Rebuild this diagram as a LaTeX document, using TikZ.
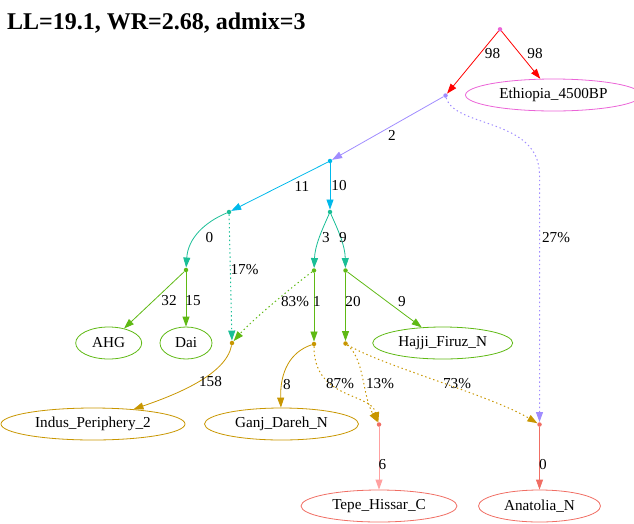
\documentclass[tikz,border=0pt]{standalone}
\usepackage{fontspec}
\setmainfont{Liberation Serif}
\usetikzlibrary{arrows.meta,shapes.geometric}

\definecolor{cRoot}{RGB}{235,100,215}
\definecolor{cRed}{RGB}{255,0,0}
\definecolor{cLav}{RGB}{160,140,255}
\definecolor{cCyan}{RGB}{0,185,235}
\definecolor{cTeal}{RGB}{25,190,150}
\definecolor{cGreen}{RGB}{95,185,20}
\definecolor{cGold}{RGB}{200,150,0}
\definecolor{cSalmon}{RGB}{240,110,100}
\definecolor{cPink}{RGB}{255,160,160}

\begin{document}
\begin{tikzpicture}[x=1pt,y=-1pt,
  every node/.style={font=\fontsize{15.2}{17}\selectfont},
  dot/.style={circle,fill=#1,draw=none,inner sep=0pt,minimum size=4.5pt},
  leaf/.style={ellipse,draw=#1,line width=0.8pt,inner sep=0pt,minimum height=32pt},
  edge/.style={draw=#1,line width=0.8pt,-{Triangle[length=10pt,width=7pt]}},
  mixedge/.style={edge=#1,line width=1pt,dash pattern=on 1.4pt off 2.8pt},
  lab/.style={inner sep=0pt}]
\useasboundingbox (0,0) rectangle (634,523);

% title
\node[anchor=base west,font=\bfseries\fontsize{24}{28}\selectfont,inner sep=0pt]
  (title) at (7,29.3) {LL=19.1, WR=2.68, admix=3};

% internal points of the graph
\node[dot=cRoot]   (R)  at (500,29.3) {};
\node[dot=cLav]    (A)  at (445.5,95.5) {};
\node[dot=cCyan]   (B)  at (330,161) {};
\node[dot=cTeal]   (C)  at (229,212) {};
\node[dot=cTeal]   (D)  at (330,212) {};
\node[dot=cGreen]  (E)  at (186,270) {};
\node[dot=cGreen]  (F)  at (314,270.5) {};
\node[dot=cGreen]  (G)  at (345.5,270.5) {};
\node[dot=cGold]   (IM) at (232,343) {};
\node[dot=cGold]   (H)  at (314,344) {};
\node[dot=cGold]   (I)  at (345.5,343.5) {};
\node[dot=cSalmon] (TM) at (379,424.5) {};
\node[dot=cSalmon] (AM) at (539.5,424.5) {};

% populations
\node[leaf=cRoot,minimum width=176pt]   (Eth)  at (553.5,95)  {Ethiopia\_4500BP};
\node[leaf=cGreen,minimum width=66pt]   (AHG)  at (108.7,343) {AHG};
\node[leaf=cGreen,minimum width=52pt]   (Dai)  at (186,343)   {Dai};
\node[leaf=cGreen,minimum width=140pt]  (Haj)  at (442.7,343) {Hajji\_Firuz\_N};
\node[leaf=cGold,minimum width=184pt]   (Ind)  at (93,424)    {Indus\_Periphery\_2};
\node[leaf=cGold,minimum width=154pt]   (Ganj) at (281.5,424) {Ganj\_Dareh\_N};
\node[leaf=cSalmon,minimum width=156pt] (Tepe) at (379,506)   {Tepe\_Hissar\_C};
\node[leaf=cSalmon,minimum width=122pt] (Ana)  at (539.5,506) {Anatolia\_N};

% drift edges
\draw[edge=cRed]   (R) -- (A);
\draw[edge=cRed]   (R) -- (Eth);
\draw[edge=cLav]   (A) -- (B);
\draw[edge=cCyan]  (B) -- (C);
\draw[edge=cCyan]  (B) -- (D);
\draw[edge=cTeal]  (C) .. controls (205,222) and (188,238) .. (E);
\draw[edge=cTeal]  (D) .. controls (322,230) and (315,245) .. (F);
\draw[edge=cTeal]  (D) .. controls (338,230) and (345,245) .. (G);
\draw[edge=cGreen] (E) -- (AHG);
\draw[edge=cGreen] (E) -- (Dai);
\draw[edge=cGreen] (F) -- (H);
\draw[edge=cGreen] (G) -- (I);
\draw[edge=cGreen] (G) -- (Haj);
\draw[edge=cGold]  (IM) .. controls (226,375) and (175,395) .. (Ind.20);
\draw[edge=cGold]  (H) .. controls (290,352) and (280,372) .. (Ganj.92);
\draw[edge=cPink]  (TM) -- (Tepe);
\draw[edge=cSalmon] (AM) -- (Ana);

% admixture edges
\coordinate (turn) at (539.5,175);
\draw[mixedge=cLav]   (A) .. controls (455,128) and (539.5,118) .. (turn) -- (AM);
\draw[mixedge=cTeal]  (C) -- (IM);
\draw[mixedge=cGreen] (F) .. controls (298,282) and (252,320) .. (IM);
\draw[mixedge=cGold]  (H) .. controls (314,400) and (370,392) .. (TM);
\draw[mixedge=cGold]  (I) .. controls (365,360) and (362,395) .. (TM);
\draw[mixedge=cGold]  (I) .. controls (380,365) and (490,395) .. (AM);

% edge labels
\node[lab] (l1)  at (492.5,54)  {98};
\node[lab] (l2)  at (535,54)    {98};
\node[lab] (l3)  at (392,135)   {2};
\node[lab] (l4)  at (302,186)   {11};
\node[lab] (l5)  at (339,186)   {10};
\node[lab] (l6)  at (209.5,238) {0};
\node[lab] (l7)  at (326,238)   {3};
\node[lab] (l8)  at (343,238)   {9};
\node[lab] (l9)  at (556,238)   {27\%};
\node[lab] (l10) at (244.5,269.5) {17\%};
\node[lab] (l11) at (169,301)   {32};
\node[lab] (l12) at (193,301)   {15};
\node[lab] (l13) at (295,301.5) {83\%};
\node[lab] (l14) at (317,301.5) {1};
\node[lab] (l15) at (353,301.5) {20};
\node[lab] (l16) at (402,301.5) {9};
\node[lab] (l17) at (210.5,382) {158};
\node[lab] (l18) at (287,384.5) {8};
\node[lab] (l19) at (340,384)   {87\%};
\node[lab] (l20) at (380,384)   {13\%};
\node[lab] (l21) at (457,384)   {73\%};
\node[lab] (l22) at (382.5,465) {6};
\node[lab] (l23) at (543,465)   {0};
\end{tikzpicture}
\end{document}
